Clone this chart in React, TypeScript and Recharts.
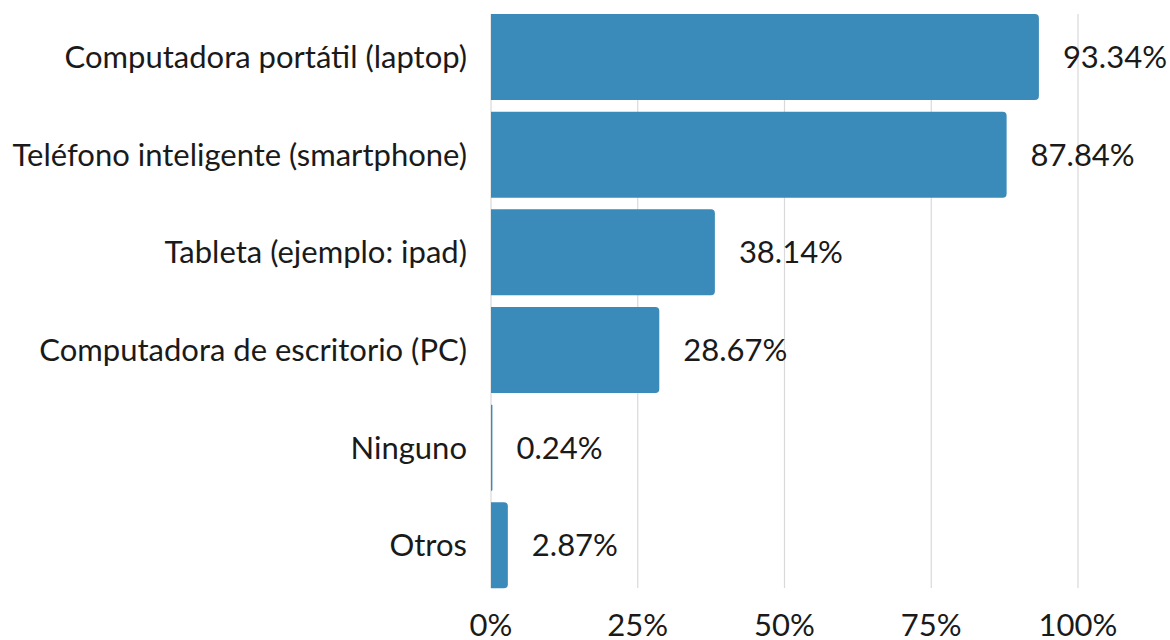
import { BarChart, Bar, XAxis, YAxis, CartesianGrid, LabelList } from "recharts";

const devices = [
  "Computadora portátil (laptop)",
  "Teléfono inteligente (smartphone)",
  "Tableta (ejemplo: ipad)",
  "Computadora de escritorio (PC)",
  "Ninguno",
  "Otros",
];

const shares = [93.34, 87.84, 38.14, 28.67, 0.24, 2.87];

const xTicks = [0, 25, 50, 75, 100];

const FONT = "Lato, 'Noto Sans', sans-serif";
const BAR_COLOR = "#3b8bba";
const TEXT_COLOR = "#1a1a1a";
const FS = 31;

export default function App() {
  const data = devices.map((name, i) => ({ name, value: shares[i] }));

  return (
    <div style={{ position: "absolute", left: 0, top: 0, width: 1170, height: 640, background: "#fff" }}>
      <BarChart
        width={1170}
        height={640}
        data={data}
        layout="vertical"
        margin={{ top: 8, right: 92, left: 0, bottom: 0 }}
        barCategoryGap={6}
      >
        <CartesianGrid
          horizontal={false}
          stroke="#d9d9d9"
          strokeWidth={1.2}
          y={14}
          height={574}
        />
        <XAxis
          type="number"
          domain={[0, 100]}
          ticks={xTicks}
          tickFormatter={(v: number) => `${v}%`}
          axisLine={false}
          tickLine={false}
          tickSize={0}
          tickMargin={20}
          height={46}
          tick={{ fill: TEXT_COLOR, fontSize: FS, fontFamily: FONT }}
          interval={0}
        />
        <YAxis
          type="category"
          dataKey="name"
          width={491}
          axisLine={false}
          tickLine={false}
          tickSize={0}
          tickMargin={24}
          tick={{ fill: TEXT_COLOR, fontSize: FS, fontFamily: FONT }}
          interval={0}
        />
        <Bar dataKey="value" fill={BAR_COLOR} radius={[0, 4, 4, 0]} isAnimationActive={false}>
          <LabelList
            dataKey="value"
            position="right"
            offset={24}
            formatter={(v: any) => `${Number(v).toFixed(2)}%`}
            style={{ fill: TEXT_COLOR, fontSize: FS, fontFamily: FONT }}
          />
        </Bar>
      </BarChart>
    </div>
  );
}
